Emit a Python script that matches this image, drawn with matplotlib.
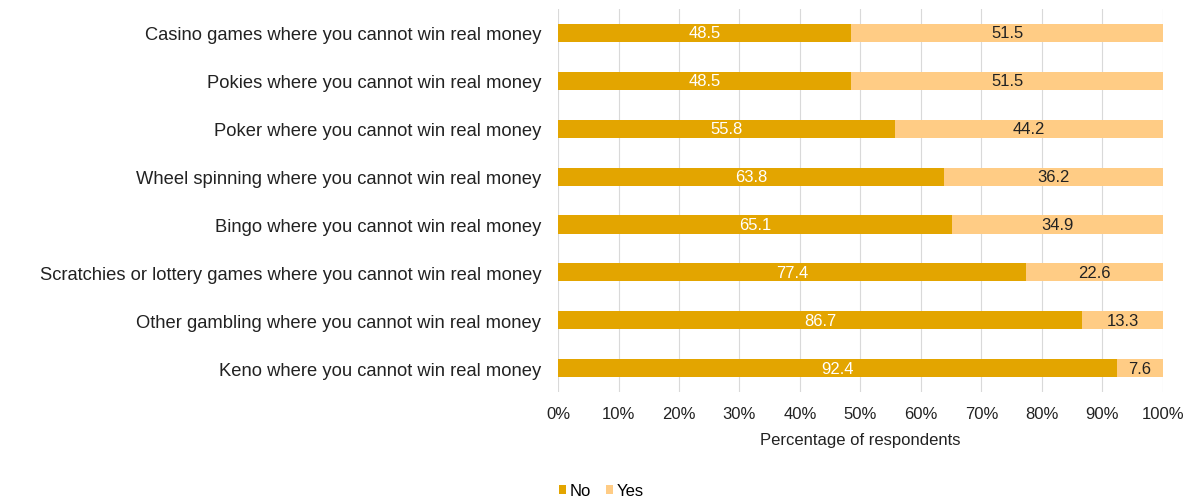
import matplotlib
matplotlib.use("Agg")
import matplotlib.pyplot as plt
import numpy as np

categories = [
    "Casino games where you cannot win real money",
    "Pokies where you cannot win real money",
    "Poker where you cannot win real money",
    "Wheel spinning where you cannot win real money",
    "Bingo where you cannot win real money",
    "Scratchies or lottery games where you cannot win real money",
    "Other gambling where you cannot win real money",
    "Keno where you cannot win real money",
]
no_vals = [48.5, 48.5, 55.8, 63.8, 65.1, 77.4, 86.7, 92.4]
yes_vals = [51.5, 51.5, 44.2, 36.2, 34.9, 22.6, 13.3, 7.6]
xticks = [0, 10, 20, 30, 40, 50, 60, 70, 80, 90, 100]

NO_COLOR = "#E3A500"
YES_COLOR = "#FFCC85"

plt.rcParams["font.family"] = ["Liberation Sans", "DejaVu Sans"]

fig = plt.figure(figsize=(11.95, 5.02), dpi=100)
ax = fig.add_axes([0.467, 0.217, 0.506, 0.763])

y = np.arange(len(categories))
h = 0.38
b1 = ax.barh(y, no_vals, height=h, color=NO_COLOR, label="No", zorder=2)
b2 = ax.barh(y, yes_vals, left=no_vals, height=h, color=YES_COLOR, label="Yes", zorder=2)

for yi, n, s in zip(y, no_vals, yes_vals):
    ax.text(n / 2, yi, f"{n:.1f}", ha="center", va="center", color="white", fontsize=12, zorder=3)
    ax.text(n + s / 2, yi, f"{s:.1f}", ha="center", va="center", color="#222222", fontsize=12, zorder=3)

ax.set_xlim(0, 100)
ax.set_ylim(len(categories) - 0.5, -0.5)
ax.set_yticks(y)
ax.set_yticklabels(categories, fontsize=13.2, color="#222222")
ax.set_xticks(xticks)
ax.set_xticklabels([f"{t}%" for t in xticks], fontsize=12, color="#222222")
ax.tick_params(axis="y", length=0, pad=12)
ax.tick_params(axis="x", length=0, pad=10)
ax.set_xlabel("Percentage of respondents", fontsize=12, color="#222222", labelpad=8)
ax.grid(axis="x", color="#D9D9D9", linewidth=0.8, zorder=0)
for sp in ax.spines.values():
    sp.set_visible(False)

fig.legend(handles=[b1, b2], labels=["No", "Yes"], loc="lower left",
           bbox_to_anchor=(0.455, -0.024), ncol=2, frameon=False, fontsize=12,
           handlelength=0.45, handleheight=0.45, handletextpad=0.2, columnspacing=0.9)

fig.savefig("out.png", dpi=100)
